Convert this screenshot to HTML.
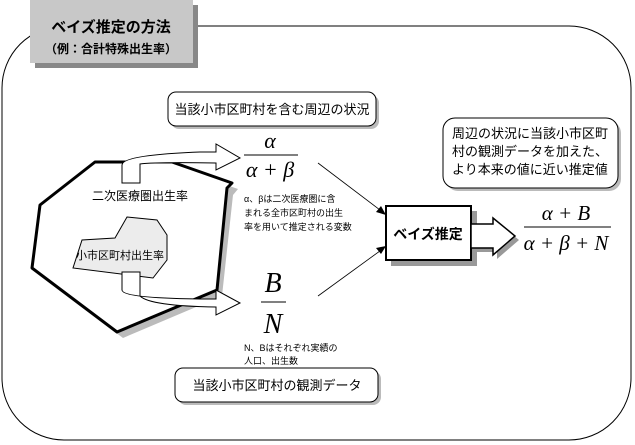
<!DOCTYPE html>
<html><head><meta charset="utf-8"><style>
body{margin:0;background:#fff;}
svg{display:block;font-family:"Liberation Sans","Noto Sans CJK JP",sans-serif;}
.m{font-family:"Liberation Serif",serif;font-style:italic;}
</style></head><body>
<svg width="635" height="445" viewBox="0 0 635 445" xmlns="http://www.w3.org/2000/svg">
<rect x="2" y="26" width="629" height="414" rx="62" ry="62" fill="#fff" stroke="#000" stroke-width="1"/>
<rect x="35" y="5" width="163" height="63" fill="#888"/>
<rect x="30" y="0" width="163" height="63" fill="#c8c8c8"/>
<text x="111" y="32" font-size="15" font-weight="bold" text-anchor="middle">ベイズ推定の方法</text>
<text x="111" y="53" font-size="12" font-weight="bold" text-anchor="middle">（例：合計特殊出生率）</text>
<rect x="171" y="95" width="208" height="34" rx="8" fill="#bbb"/>
<rect x="168" y="92" width="208" height="34" rx="8" fill="#fff" stroke="#000"/>
<text x="272" y="114" font-size="13" text-anchor="middle">当該小市区町村を含む周辺の状況</text>
<rect x="446" y="121" width="175" height="70" rx="12" fill="#bbb"/>
<rect x="443" y="118" width="175" height="70" rx="12" fill="#fff" stroke="#000"/>
<text x="452" y="138" font-size="13">周辺の状況に当該小市区町</text>
<text x="452" y="156" font-size="13">村の観測データを加えた、</text>
<text x="452" y="174" font-size="13">より本来の値に近い推定値</text>
<rect x="178" y="371" width="203" height="34" rx="8" fill="#bbb"/>
<rect x="175" y="368" width="203" height="34" rx="8" fill="#fff" stroke="#000"/>
<text x="277" y="390" font-size="13" text-anchor="middle">当該小市区町村の観測データ</text>
<polygon points="101,168 178,168 238,189 233,195 222,296 123,338 38,274 46,211" fill="#bbb"/>
<polygon points="95,162 172,162 232,183 227,188 217,290 117,332 32,268 40,205" fill="#fff" stroke="#000" stroke-width="3" stroke-linejoin="round"/>
<text x="140" y="200" font-size="12" text-anchor="middle">二次医療圏出生率</text>
<polygon points="127,217 157,220 167,235 167,260 153,278 73,268 82,240 115,238" fill="#ececec" stroke="#000" stroke-width="1"/>
<text x="120" y="259" font-size="11" text-anchor="middle">小市区町村出生率</text>
<path d="M122,183 L122,165 Q122,155 200,152 L216,152 L216,144 L240,158 L216,170 L216,163 Q155,162 140,164 L140,183 Z" fill="#fff" stroke="#000" stroke-width="1"/>
<path d="M122,272 L122,290 Q122,298 200,299 L216,299 L216,290 L240,303 L216,315 L216,307 Q150,306 140,296 L140,272 Z" fill="#fff" stroke="#000" stroke-width="1"/>
<text x="270" y="148" class="m" font-size="22" text-anchor="middle">α</text>
<line x1="244" y1="155" x2="298" y2="155" stroke="#000"/>
<text x="270" y="177" class="m" font-size="22" text-anchor="middle">α + β</text>
<text x="244" y="202" font-size="9">α、βは二次医療圏に含</text>
<text x="244" y="216" font-size="9">まれる全市区町村の出生</text>
<text x="244" y="230" font-size="9">率を用いて推定される変数</text>
<text x="273" y="292" class="m" font-size="28" text-anchor="middle">B</text>
<line x1="261" y1="302" x2="286" y2="302" stroke="#000"/>
<text x="273" y="333" class="m" font-size="28" text-anchor="middle">N</text>
<text x="244" y="351" font-size="9">N、Bはそれぞれ実績の</text>
<text x="244" y="364" font-size="9">人口、出生数</text>
<line x1="318" y1="163" x2="384" y2="213" stroke="#000" stroke-width="0.8"/>
<polygon points="386,215 376,212 381,206" fill="#000"/>
<line x1="318" y1="296" x2="384" y2="248" stroke="#000" stroke-width="0.8"/>
<polygon points="386,246 381,254 376,248" fill="#000"/>
<rect x="391" y="211" width="86" height="55" fill="#999"/>
<rect x="386" y="206" width="85" height="54" fill="#fff" stroke="#000" stroke-width="2"/>
<text x="428" y="239" font-size="14" font-weight="bold" text-anchor="middle">ベイズ推定</text>
<polygon points="475,228 497,228 497,222 519,240 497,259 497,252 475,252" fill="#999"/>
<polygon points="471,224 493,224 493,218 515,236 493,255 493,248 471,248" fill="#fff" stroke="#000" stroke-width="1.5"/>
<text x="566" y="220" class="m" font-size="21" text-anchor="middle">α + B</text>
<line x1="524" y1="227" x2="611" y2="227" stroke="#000"/>
<text x="566" y="250" class="m" font-size="21" text-anchor="middle">α + β + N</text>
</svg>
</body></html>
